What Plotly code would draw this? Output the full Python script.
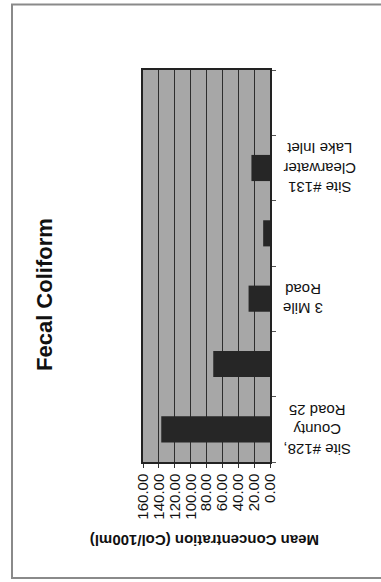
import plotly.graph_objects as go

# Mean fecal coliform by sampling site (Col/100ml); the last slot has no sample
site_labels = ["Site #128,<br>County<br>Road 25", None, "3 Mile<br>Road", None,
               "Site #131<br>Clearwater<br>Lake Inlet", None]
site_pos = [0, 1, 2, 3, 4, 5]
mean_conc = [137.0, 71.5, 27.0, 8.6, 23.4, None]

value_ticks = [0, 20, 40, 60, 80, 100, 120, 140, 160]
value_tick_text = ["0.00", "20.00", "40.00", "60.00", "80.00",
                   "100.00", "120.00", "140.00", "160.00"]
slot_edges = [-0.5, 0.5, 1.5, 2.5, 3.5, 4.5, 5.5]

W, H = 381, 582
L, R, T, B = 143, 111, 70, 120
FONT = "Liberation Sans, Arial, sans-serif"


def px_x(px):
    return (px - L) / (W - L - R)


def px_y(py):
    return (H - B - py) / (H - T - B)


fig = go.Figure()
fig.add_trace(go.Bar(
    x=mean_conc, y=site_pos, orientation="h",
    marker=dict(color="#262626", line=dict(width=0)),
    hoverinfo="skip",
))

# category names beside the value-zero line, turned upside down
for pos, lab in zip(site_pos, site_labels):
    if lab is None:
        continue
    fig.add_annotation(
        x=px_x(281), xref="paper", y=pos, yref="y",
        text=lab, textangle=180, showarrow=False,
        xanchor="left", yanchor="middle", align="center",
        font=dict(family=FONT, size=15, color="#111"),
    )

fig.add_annotation(
    x=px_x(44), y=px_y(295), xref="paper", yref="paper",
    text="<b>Fecal Coliform</b>", textangle=-90, showarrow=False,
    xanchor="center", yanchor="middle",
    font=dict(family=FONT, size=22, color="#111"),
)
fig.add_annotation(
    x=px_x(205), y=px_y(541), xref="paper", yref="paper",
    text="<b>Mean Concentration (Col/100ml)</b>", textangle=180, showarrow=False,
    xanchor="center", yanchor="middle",
    font=dict(family=FONT, size=15, color="#111"),
)

# outer chart frame
fig.add_shape(
    type="rect", xref="paper", yref="paper",
    x0=px_x(12), x1=px_x(386), y0=px_y(578), y1=px_y(4.5),
    line=dict(color="#8a8a8a", width=2), fillcolor="rgba(0,0,0,0)", layer="below",
)

fig.update_layout(
    width=W, height=H, autosize=False,
    margin=dict(l=L, r=R, t=T, b=B, pad=0),
    paper_bgcolor="white", plot_bgcolor="#a7a7a7",
    showlegend=False, bargap=0.6,
    font=dict(family=FONT, size=15, color="#111"),
)
fig.update_xaxes(
    range=[160, 0], tickmode="array", tickvals=value_ticks, ticktext=value_tick_text,
    tickangle=-90, ticks="outside", ticklen=4, tickcolor="#333",
    showgrid=True, gridcolor="#2e2e2e", gridwidth=1,
    showline=True, linecolor="#222", linewidth=1.5, mirror=True,
    zeroline=False, tickfont=dict(family=FONT, size=15, color="#111"),
)
fig.update_yaxes(
    range=[-0.5, 5.5], side="right", tickmode="array", tickvals=slot_edges,
    ticktext=[""] * len(slot_edges), ticks="outside", ticklen=4, tickcolor="#555",
    showgrid=False, showline=True, linecolor="#222", linewidth=1.5, mirror=True,
    zeroline=False,
)

fig.write_html("out.html")
